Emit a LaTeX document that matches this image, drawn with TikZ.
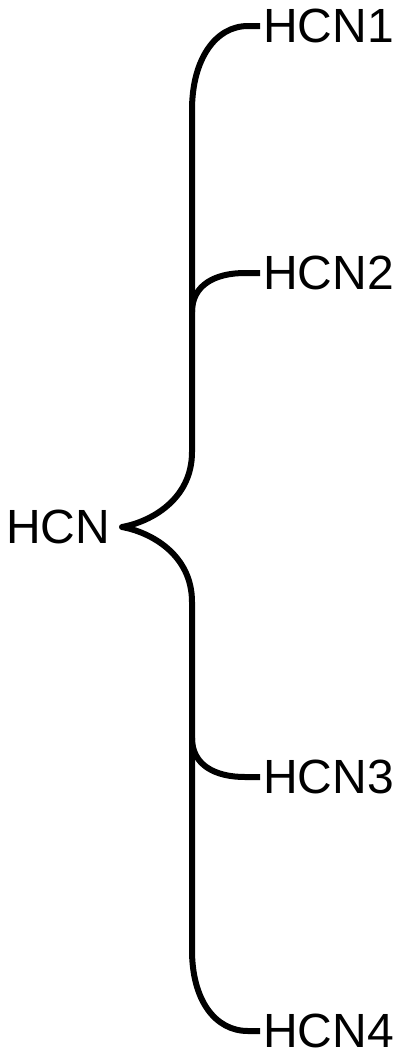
\documentclass[tikz,border=0pt]{standalone}
\usepackage{fontspec}
\setmainfont{Liberation Sans}
\begin{document}
\begin{tikzpicture}[x=1pt,y=1pt,
  lbl/.style={anchor=west,inner xsep=3pt,inner ysep=0pt,font=\fontsize{48}{56}\selectfont},
  brace/.style={line width=6pt,line join=round,line cap=butt}]
\useasboundingbox (0,0) rectangle (405,-1053);
\node[lbl] (n1) at (260,-26) {HCN1};
\node[lbl] (n2) at (260,-273) {HCN2};
\node[lbl] (n3) at (260,-777) {HCN3};
\node[lbl] (n4) at (260,-1031) {HCN4};
\node[anchor=east,inner xsep=11.5pt,inner ysep=0pt,font=\fontsize{48}{56}\selectfont] (root) at (122,-527) {HCN};
\draw[brace] (n1.west) -- (248,-26) .. controls (215,-26) and (192,-60) .. (192,-110)
  -- (192,-452) .. controls (192,-500) and (150,-522) .. (root.east)
  .. controls (150,-532) and (192,-554) .. (192,-602)
  -- (192,-950) .. controls (192,-1000) and (215,-1031) .. (248,-1031) -- (n4.west);
\draw[brace] (192,-312) .. controls (192,-285) and (215,-273) .. (245,-273) -- (n2.west);
\draw[brace] (192,-738) .. controls (192,-765) and (215,-777) .. (245,-777) -- (n3.west);
\end{tikzpicture}
\end{document}
